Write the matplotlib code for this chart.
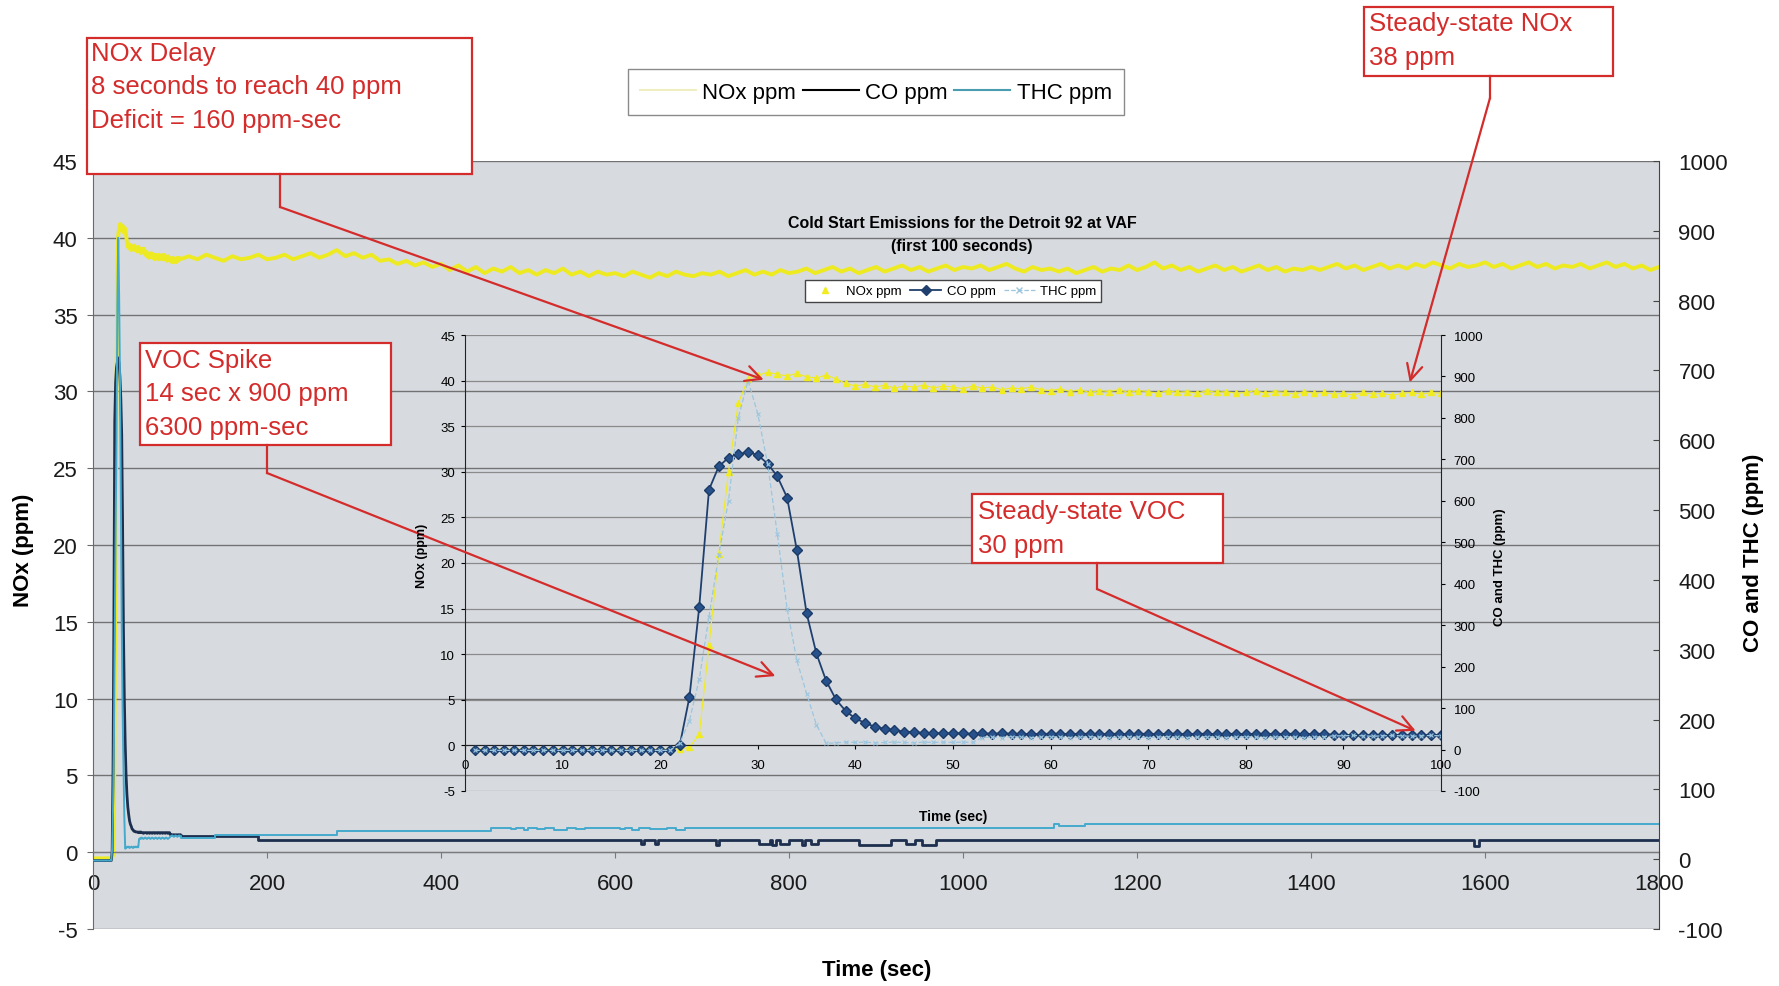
import numpy as np
import matplotlib

matplotlib.use("Agg")
import matplotlib.pyplot as plt
from matplotlib.lines import Line2D
from matplotlib.patches import Rectangle

plt.rcParams["font.family"] = ["Liberation Sans", "DejaVu Sans"]
plt.rcParams["axes.unicode_minus"] = False

W, H = 1779, 987

# ---- data: first 100 s at 1 s resolution (inset + start of main trace)
seconds = np.arange(0, 101)
co_first = [
    -2, -2, -2, -2, -2, -2, -2, -2, -2, -2,
    -2, -2, -2, -2, -2, -2, -2, -2, -2, -2,
    -2, -2, 10, 127, 344, 627, 683, 704, 712, 718,
    710, 690, 659, 608, 481, 329, 232, 166, 121, 93,
    75, 64, 55, 50, 47, 43, 42, 40, 40, 39,
    39, 39, 38, 39, 38, 39, 38, 38, 37, 38,
    38, 38, 37, 38, 38, 37, 38, 38, 37, 38,
    38, 37, 38, 38, 37, 38, 38, 37, 38, 38,
    37, 38, 38, 37, 38, 38, 37, 38, 38, 35,
    35, 34, 35, 35, 34, 35, 35, 34, 35, 35,
    35,
]
thc_first = [
    -2, -2, -2, -2, -2, -2, -2, -2, -2, -2,
    -2, -2, -2, -2, -2, -2, -2, -2, -2, -2,
    -2, -2, 15, 70, 170, 320, 470, 600, 800, 890,
    810, 690, 520, 340, 215, 135, 60, 15, 16, 18,
    17, 18, 16, 17, 18, 17, 16, 18, 17, 18,
    17, 18, 17, 29, 30, 29, 31, 30, 29, 30,
    31, 30, 29, 30, 31, 30, 29, 30, 31, 30,
    29, 30, 31, 30, 29, 30, 31, 30, 29, 30,
    31, 30, 29, 30, 31, 30, 29, 30, 31, 33,
    33, 34, 33, 32, 33, 34, 33, 32, 33, 34,
    33,
]
nox_first = [
    -0.4, -0.4, -0.4, -0.4, -0.4, -0.4, -0.4, -0.4, -0.4, -0.4,
    -0.4, -0.4, -0.4, -0.4, -0.4, -0.4, -0.4, -0.4, -0.4, -0.4,
    -0.4, -0.4, -0.4, -0.2, 1.2, 11.0, 21.0, 30.0, 37.5, 40.2,
    40.6, 40.9, 40.7, 40.5, 40.8, 40.4, 40.3, 40.6, 40.2, 39.7,
    39.4, 39.6, 39.3, 39.5, 39.2, 39.4, 39.3, 39.5, 39.2, 39.4,
    39.3, 39.1, 39.4, 39.2, 39.3, 39.0, 39.2, 39.1, 39.3, 39.0,
    38.9, 39.1, 38.8, 39.0, 38.7, 38.9, 38.8, 39.0, 38.7, 38.9,
    38.8, 38.6, 38.9, 38.7, 38.8, 38.6, 38.9, 38.7, 38.8, 38.6,
    38.7, 38.9, 38.6, 38.8, 38.7, 38.5, 38.8, 38.6, 38.7, 38.5,
    38.6, 38.4, 38.7, 38.5, 38.6, 38.4, 38.6, 38.7, 38.5, 38.7,
    38.6,
]

# ---- data: rest of the run (main chart)
late_t = np.arange(110, 1810, 10)
nox_late = [
    38.8, 38.6, 38.9, 38.7, 38.5, 38.8, 38.6, 38.7, 38.9, 38.6,
    38.7, 38.9, 38.6, 38.8, 39.0, 38.7, 38.9, 39.2, 38.8, 39.0,
    38.7, 38.9, 38.5, 38.6, 38.3, 38.5, 38.2, 38.4, 38.1, 38.3,
    37.9, 38.2, 37.8, 38.1, 37.7, 38.0, 37.8, 38.1, 37.7, 37.9,
    37.6, 37.9, 37.7, 38.0, 37.6, 37.8, 37.5, 37.8, 37.6, 37.7,
    37.5, 37.8, 37.6, 37.4, 37.7, 37.5, 37.8, 37.6, 37.5, 37.7,
    37.6, 37.8, 37.5, 37.7, 37.9, 37.6, 37.8, 37.6, 37.9, 37.7,
    37.8, 38.0, 37.7, 37.9, 38.1, 37.8, 38.0, 37.7, 37.9, 38.1,
    37.8, 38.0, 38.2, 37.9, 38.1, 37.8, 38.0, 38.2, 37.9, 38.1,
    38.0, 38.2, 37.9, 38.1, 38.3, 38.0, 37.8, 38.1, 37.9, 38.0,
    37.8, 38.0, 37.7, 37.9, 38.1, 37.8, 38.0, 37.9, 38.2, 37.9,
    38.1, 38.4, 38.0, 38.2, 37.9, 38.1, 37.8, 38.0, 38.2, 37.9,
    38.1, 37.8, 38.0, 38.2, 37.9, 38.1, 37.8, 38.0, 37.9, 38.1,
    37.9, 38.1, 38.3, 38.0, 38.2, 37.9, 38.1, 38.3, 38.0, 38.2,
    38.0, 38.3, 38.1, 38.4, 38.2, 38.0, 38.3, 38.1, 38.2, 38.4,
    38.1, 38.3, 38.0, 38.2, 38.4, 38.1, 38.3, 38.0, 38.2, 38.1,
    38.3, 38.0, 38.2, 38.4, 38.1, 38.3, 38.0, 38.2, 37.9, 38.1,
]
# step changes (value holds until the next time)
co_step_t = [100, 101, 190, 630, 633, 646, 649, 716, 719, 765, 778, 781, 785, 790,
             800, 815, 818, 825, 833, 880, 917, 935, 945, 953, 969, 1587, 1593, 1800]
co_step_v = [35, 33, 27, 22, 27, 22, 27, 21, 27, 22, 27, 20, 27, 22,
             27, 21, 27, 22, 27, 20, 27, 22, 27, 20, 27, 19, 27, 27]
thc_step_t = [100, 101, 140, 280, 457, 480, 486, 495, 500, 510, 520, 530, 545, 555,
              565, 606, 612, 620, 628, 640, 660, 670, 680, 1105, 1110, 1140, 1800]
thc_step_v = [33, 31, 34, 40, 45, 43, 45, 42, 45, 43, 45, 42, 45, 43,
              45, 43, 45, 42, 45, 43, 45, 42, 45, 50, 47, 50, 50]

legend_labels = ["NOx ppm", "CO ppm", "THC ppm"]

BG = "#d7dbe0"
GRID = "#727272"
RED = "#d42b2b"
NOX_MAIN, CO_MAIN, THC_MAIN = "#eeea22", "#1d2f4e", "#45a9cc"
NOX_INS, CO_INS, THC_INS = "#f1ec1e", "#1f3f6e", "#9cc6de"


def fig_xy(x, y):
    return x / W, 1 - y / H


fig = plt.figure(figsize=(W / 100, H / 100), dpi=100)

# ---------------- main chart
ax = fig.add_axes([93 / W, 1 - 930 / H, 1566 / W, 768 / H])
ax.set_facecolor(BG)
ax.set_xlim(0, 1800)
ax.set_ylim(-5, 45)
ax.set_xticks(range(0, 2000, 200))
ax.set_yticks(range(-5, 50, 5))
ax.grid(axis="y", color=GRID, lw=1.0)
ax.set_axisbelow(True)
ax.spines["bottom"].set_position(("data", 0))
ax.spines["bottom"].set_color("#7a7a7a")
ax.spines["left"].set_color("#6a6a6a")
ax.spines["top"].set_visible(False)
ax.spines["right"].set_visible(False)
ax.tick_params(axis="x", direction="out", length=4, pad=11, labelsize=16, colors="#7a7a7a",
               labelcolor="#1a1a1a")
ax.tick_params(axis="y", direction="out", length=4, pad=7, labelsize=16, colors="#6a6a6a",
               labelcolor="#1a1a1a")

ax2 = ax.twinx()
ax2.set_ylim(-100, 1000)
ax2.set_yticks(range(-100, 1100, 100))
for side in ("top", "bottom", "left"):
    ax2.spines[side].set_visible(False)
ax2.spines["right"].set_color("#444444")
ax2.tick_params(axis="y", direction="in", length=4, pad=14, labelsize=16, colors="#444444",
                labelcolor="#1a1a1a")

ax.plot(np.concatenate([seconds, late_t]), nox_first + nox_late, color=NOX_MAIN, lw=2.8)
ax2.plot(seconds, co_first, color=CO_MAIN, lw=2.0)
ax2.plot(co_step_t, co_step_v, color=CO_MAIN, lw=2.0, drawstyle="steps-post")
ax2.plot(seconds, thc_first, color=THC_MAIN, lw=1.4)
ax2.plot(thc_step_t, thc_step_v, color=THC_MAIN, lw=1.4, drawstyle="steps-post")

main_handles = [
    Line2D([], [], color="#eeeec0", lw=1.5),
    Line2D([], [], color="black", lw=1.5),
    Line2D([], [], color="#4a9cb0", lw=1.5),
]
fig.legend(main_handles, legend_labels, loc="center", bbox_to_anchor=fig_xy(876, 93),
           ncol=3, fontsize=16, fancybox=False, edgecolor="#8a8a8a", framealpha=1,
           handlelength=2.5, handletextpad=0.3, columnspacing=0.3, borderpad=0.55)

fig.text(*fig_xy(23, 550), "NOx (ppm)", rotation=90, ha="center", va="center",
         fontsize=16, weight="bold")
fig.text(*fig_xy(1753, 553), "CO and THC (ppm)", rotation=90, ha="center", va="center",
         fontsize=16, weight="bold")
fig.text(*fig_xy(877, 971), "Time (sec)", ha="center", va="center", fontsize=16, weight="bold")

# ---------------- inset: first 100 seconds
narrow = ["Liberation Sans Narrow", "Liberation Sans", "DejaVu Sans"]
ins = fig.add_axes([465 / W, 1 - 792 / H, 976 / W, 456 / H])
ins.patch.set_visible(False)
ins.set_xlim(0, 100)
ins.set_ylim(-5, 45)
ins.set_xticks(range(0, 110, 10))
ins.set_yticks(range(-5, 50, 5))
ins.grid(axis="y", color="#8a8a8a", lw=0.9)
ins.spines["bottom"].set_position(("data", 0))
ins.spines["bottom"].set_color("#222222")
ins.spines["left"].set_color("#222222")
ins.spines["top"].set_visible(False)
ins.spines["right"].set_visible(False)
ins.tick_params(axis="x", direction="out", length=3, pad=7, labelsize=9.5)
ins.tick_params(axis="y", direction="out", length=3, pad=4, labelsize=9.5)

ins2 = ins.twinx()
ins2.set_ylim(-100, 1000)
ins2.set_yticks(range(-100, 1100, 100))
for side in ("top", "bottom", "left"):
    ins2.spines[side].set_visible(False)
ins2.spines["right"].set_color("#222222")
ins2.tick_params(axis="y", direction="out", length=3, pad=6, labelsize=9.5)

ins.plot(seconds[1:], nox_first[1:], color=NOX_INS, lw=0.8, marker="^", ms=4, mec=NOX_INS)
ins2.plot(seconds[1:], co_first[1:], color=CO_INS, lw=1.3, marker="D", ms=5,
          mfc="#27518a", mec="#1b3a66")
ins2.plot(seconds[1:], thc_first[1:], color=THC_INS, lw=0.9, ls=(0, (4, 2)),
          marker="x", ms=3, mew=0.8)

ins_handles = [
    Line2D([], [], color=NOX_INS, marker="^", ls="none", ms=5),
    Line2D([], [], color=CO_INS, marker="D", ms=5, lw=1.3),
    Line2D([], [], color=THC_INS, marker="x", ms=4, lw=0.9, ls="--"),
]
ins2.legend(ins_handles, legend_labels, loc="center", bbox_to_anchor=fig_xy(953, 292),
            bbox_transform=fig.transFigure, ncol=3, fontsize=9.5, fancybox=False,
            edgecolor="#444444", framealpha=1, handlelength=2.4, handletextpad=0.4,
            columnspacing=0.6, borderpad=0.35)

fig.text(*fig_xy(962, 224), "Cold Start Emissions for the Detroit 92 at VAF", ha="center",
         va="center", fontsize=11.5, weight="bold", family=narrow)
fig.text(*fig_xy(962, 246), "(first 100 seconds)", ha="center", va="center",
         fontsize=11.5, weight="bold", family=narrow)
fig.text(*fig_xy(953, 817), "Time (sec)", ha="center", va="center", fontsize=10,
         weight="bold", family=narrow)
fig.text(*fig_xy(422, 556), "NOx (ppm)", rotation=90, ha="center", va="center",
         fontsize=9, weight="bold", family=narrow)
fig.text(*fig_xy(1500, 567), "CO and THC (ppm)", rotation=90, ha="center", va="center",
         fontsize=9.5, weight="bold", family=narrow)


# ---------------- red call-outs
def callout(lines, box, line_y, text_x, elbow, target):
    x0, y0, x1, y1 = box
    fig.add_artist(Rectangle(fig_xy(x0, y1), (x1 - x0) / W, (y1 - y0) / H,
                             transform=fig.transFigure, facecolor="white",
                             edgecolor=RED, lw=1.6, zorder=5))
    for s, y in zip(lines, line_y):
        fig.text(*fig_xy(text_x, y), s, color=RED, fontsize=18.5, ha="left", va="center",
                 zorder=6)
    ex, ey0, ey1 = elbow
    fig.add_artist(Line2D([ex / W, ex / W], [1 - ey0 / H, 1 - ey1 / H],
                          transform=fig.transFigure, color=RED, lw=1.6, zorder=5))
    ins2.annotate("", xy=target, xycoords=ins.transData, xytext=fig_xy(ex, ey1),
                  textcoords="figure fraction",
                  arrowprops=dict(arrowstyle="->", color=RED, lw=1.6, mutation_scale=28,
                                  shrinkA=0, shrinkB=0))


callout(["NOx Delay", "8 seconds to reach 40 ppm", "Deficit = 160 ppm-sec"],
        (87, 39, 472, 175), (54, 87, 121), 91, (280, 175, 208), (30.6, 40.1))
callout(["VOC Spike", "14 sec x 900 ppm", "6300 ppm-sec"],
        (140, 344, 391, 446), (361, 394, 428), 145, (267, 446, 474), (31.8, 7.6))
callout(["Steady-state VOC", "30 ppm"],
        (972, 495, 1223, 564), (512, 546), 978, (1097, 564, 590), (97.4, 1.6))
callout(["Steady-state NOx", "38 ppm"],
        (1364, 8, 1613, 77), (24, 58), 1369, (1490, 77, 99), (96.8, 39.8))

fig.savefig("out.png", dpi=100)
